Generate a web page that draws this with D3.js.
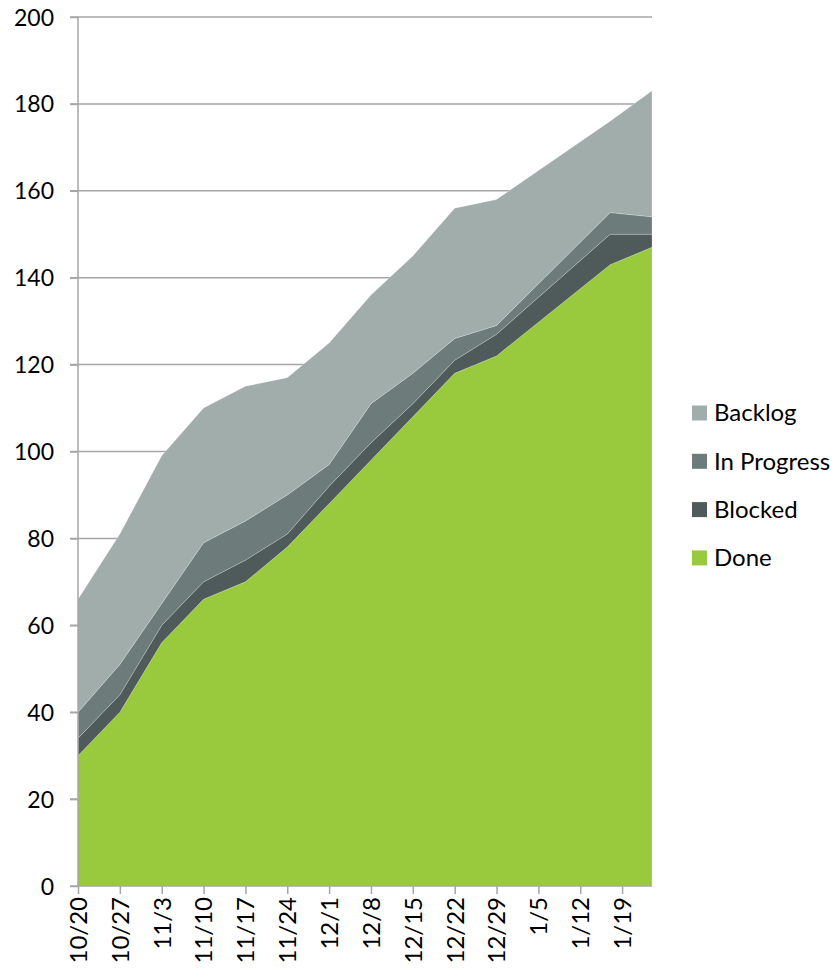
<!DOCTYPE html>
<html>
<head>
<meta charset="utf-8">
<script src="https://cdn.jsdelivr.net/npm/d3@7"></script>
<style>
  body { margin: 0; background: #fff; }
  svg text { font-family: Lato, "Open Sans", sans-serif; fill: #000; }
</style>
</head>
<body>
<svg id="viz" width="835" height="969"></svg>
<script>
// snapshot dates (weekly, then two January readings)
var dates = ["2014-10-20","2014-10-27","2014-11-03","2014-11-10","2014-11-17","2014-11-24",
             "2014-12-01","2014-12-08","2014-12-15","2014-12-22","2014-12-29","2015-01-17","2015-01-24"];
var done       = [30, 40, 56, 66, 70, 78, 88, 98, 108, 118, 122, 143, 147];
var blocked    = [ 4,  4,  4,  4,  5,  3,  4,  4,   3,   3,   5,   7,   3];
var inProgress = [ 6,  7,  5,  9,  9,  9,  5,  9,   7,   5,   2,   5,   4];
var backlog    = [26, 30, 34, 31, 31, 27, 28, 25,  27,  30,  29,  21,  29];

var tickDates = ["2014-10-20","2014-10-27","2014-11-03","2014-11-10","2014-11-17","2014-11-24",
                 "2014-12-01","2014-12-08","2014-12-15","2014-12-22","2014-12-29","2015-01-05",
                 "2015-01-12","2015-01-19"];
var yTicks = [0, 20, 40, 60, 80, 100, 120, 140, 160, 180, 200];

var seriesNames = ["Done", "Blocked", "In Progress", "Backlog"];
var legendNames = ["Backlog", "In Progress", "Blocked", "Done"];
var colors = {"Done": "#99c93c", "Blocked": "#4f5a5b", "In Progress": "#6d7b7b", "Backlog": "#a1adab"};

var parse = d3.timeParse("%Y-%m-%d");
var fmt = d3.timeFormat("%-m/%-d");

var table = dates.map(function(d, i) {
  return {date: parse(d), "Done": done[i], "Blocked": blocked[i],
          "In Progress": inProgress[i], "Backlog": backlog[i]};
});

var svg = d3.select("#viz");
var plot = {left: 78, right: 652, top: 17, bottom: 886};

var x = d3.scaleTime()
  .domain([parse(dates[0]), parse(dates[dates.length - 1])])
  .range([plot.left, plot.right]);
var y = d3.scaleLinear().domain([0, 200]).range([plot.bottom, plot.top]);

// gridlines
svg.append("g").selectAll("line")
  .data(yTicks.filter(function(t) { return t > 0; }))
  .join("line")
  .attr("x1", plot.left - 8).attr("x2", plot.right)
  .attr("y1", function(d) { return y(d); }).attr("y2", function(d) { return y(d); })
  .attr("stroke", "#a6a6a6").attr("stroke-width", 1.5);

var stack = d3.stack().keys(seriesNames);
var layers = stack(table);

var area = d3.area()
  .x(function(d) { return x(d.data.date); })
  .y0(function(d) { return y(d[0]); })
  .y1(function(d) { return y(d[1]); });

svg.append("g").selectAll("path")
  .data(layers)
  .join("path")
  .attr("d", area)
  .attr("fill", function(d) { return colors[d.key]; })
  .attr("stroke", "rgba(255,255,255,0.3)")
  .attr("stroke-width", 0.7);

// y axis
var yAxis = svg.append("g")
  .attr("transform", "translate(" + plot.left + ",0)")
  .call(d3.axisLeft(y).tickValues(yTicks).tickSize(8).tickPadding(16));
yAxis.select(".domain").attr("stroke", "#a6a6a6").attr("stroke-width", 1.5)
  .attr("d", "M0," + plot.top + "V" + plot.bottom);
yAxis.selectAll(".tick line").attr("stroke", "#a6a6a6").attr("stroke-width", 1.5);
yAxis.selectAll("text").style("font-size", "23px").attr("dy", "0.35em");

// x axis
var xAxis = svg.append("g")
  .attr("transform", "translate(0," + plot.bottom + ")")
  .call(d3.axisBottom(x).tickValues(tickDates.map(parse)).tickFormat(fmt).tickSize(8));
xAxis.select(".domain").attr("stroke", "#a6a6a6").attr("stroke-width", 1.5)
  .attr("d", "M" + (plot.left - 8) + ",0H" + plot.right);
xAxis.selectAll(".tick line").attr("stroke", "#a6a6a6").attr("stroke-width", 1.5);
xAxis.selectAll("text")
  .style("font-size", "24px")
  .attr("text-anchor", "end")
  .attr("transform", "rotate(-90)")
  .attr("x", -11).attr("y", 0).attr("dy", "0.35em");

// legend
var legend = svg.append("g").selectAll("g")
  .data(legendNames)
  .join("g")
  .attr("transform", function(d, i) { return "translate(692," + (413 + i * 48.3) + ")"; });
legend.append("rect")
  .attr("x", 0).attr("y", -7.5).attr("width", 15).attr("height", 15)
  .attr("fill", function(d) { return colors[d]; });
legend.append("text")
  .attr("x", 22).attr("dy", "0.35em")
  .style("font-size", "24px")
  .text(function(d) { return d; });
</script>
</body>
</html>
